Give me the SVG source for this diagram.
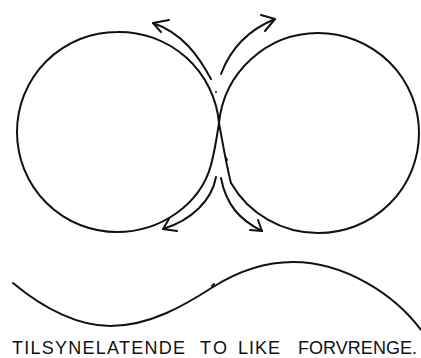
<svg xmlns="http://www.w3.org/2000/svg" width="421" height="358" viewBox="0 0 421 358">
<style>
.ln{fill:none;stroke:#111;stroke-width:2;stroke-linecap:round;stroke-linejoin:round}
.txt{font-family:"Liberation Sans",Arial,sans-serif;font-size:18px;fill:#111}
</style>
<rect width="421" height="358" fill="#fff"/>
<g id="left-lobe">
<path class="ln" d="M219,123 A100,100 0 0 0 117,32 A100,100 0 0 0 17,132 A100,100 0 0 0 117,232 C160,232 200,205 211,165 C215,150 217,136 219,123"/>
</g>
<g id="right-lobe">
<path class="ln" d="M219,123 A100,100 0 0 1 318,33 A101,100 0 0 1 419,133 A100,100 0 0 1 318,233 A100,100 0 0 1 231,183 C227,168 223,145 219,123"/>
<path class="ln" d="M226,158 l1,2"/>
<circle cx="216" cy="92" r="1" fill="#111"/>
</g>
<g id="connectors">
<path class="ln" d="M211,79 C198,55 182,33 153,23"/>
<polyline class="ln" points="169,20 153,23 161,32"/>
<path class="ln" d="M221,74 C230,50 248,30 275,19"/>
<polyline class="ln" points="261,15 275,19 265,31"/>
<path class="ln" d="M216,177 C212,200 192,220 163,229"/>
<polyline class="ln" points="169,219 163,229 177,231"/>
<path class="ln" d="M221,178 C226,205 240,220 262,231"/>
<polyline class="ln" points="258,220 262,231 250,230"/>
</g>
<g id="wave">
<path class="ln" d="M13,283 C45,310 80,326 110,326 C150,326 185,305 213,287 C240,270 265,262 293,262 C345,262 395,295 421,330"/>
<path class="ln" d="M212,286 l2,-2"/>
</g>
<g id="caption">
<text class="txt" x="12" y="354" textLength="173" lengthAdjust="spacing">TILSYNELATENDE</text>
<text class="txt" x="200" y="354" textLength="27" lengthAdjust="spacing">TO</text>
<text class="txt" x="238" y="354" textLength="42" lengthAdjust="spacing">LIKE</text>
<text class="txt" x="298" y="354" textLength="119" lengthAdjust="spacing">FORVRENGE.</text>
</g>
</svg>
